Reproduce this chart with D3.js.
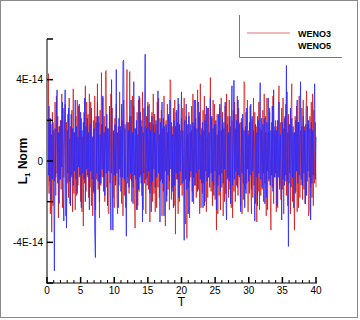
<!DOCTYPE html>
<html><head><meta charset="utf-8">
<script src="https://cdn.jsdelivr.net/npm/d3@7"></script>
<style>
body{margin:0;background:#fff}
svg{display:block}
text{font-family:"Liberation Sans",Arial,sans-serif;fill:#000}
</style>
</head><body>
<svg id="c" width="360" height="320"></svg>
<script>
// ---- data (values in units of 1E-14, sampled every 0.1 in T) ----
const tStep = 0.1;
const seriesNames = ["WENO3", "WENO5"];
const weno3 = [
 0.9,-1.2,4.3,-1.6,2.1,-2.6,1.8,-3.5,2.4,-2.2, 1.5,-1.0,2.9,-1.7,3.2,-0.6,2.2,-2.8,1.7,-0.9,
 2.0,-1.4,3.3,-2.3,2.6,-0.8,1.6,2.8,-2.7,1.9, -1.1,2.3,-1.8,3.1,-2.1,1.7,-0.7,2.5,-2.5,3.55,
-1.6,1.4,-2.4,2.2,-1.7,3.0,-1.2,2.7,-0.8,1.5, -2.0,2.1,-2.5,1.2,-3.2,2.4,-1.1,3.7,-1.5,2.9,
-0.7,2.3,-1.8,3.3,-1.3,2.9,-2.2,1.1,-2.7,2.0, -1.6,3.2,-2.4,2.2,-0.9,3.8,-1.4,1.9,-2.8,2.5,
-1.2,4.35,-0.8,3.1,-1.5,2.2,-2.0,4.4,4.45,-1.3, 1.6,-2.5,-2.6,2.4,-1.1,3.3,-0.6,2.6,-1.8,1.4,
-2.3,2.1,-1.0,2.8,-1.9,-2.6,1.7,-1.2,3.4,-0.8, 1.5,-2.1,2.0,-2.7,3.0,-1.7,1.8,-2.3,2.5,4.5,
-1.1,1.9,-1.6,4.4,-0.9,2.2,-2.0,3.2,-1.3,2.7, -1.8,-3.3,1.6,-2.4,2.4,-2.2,3.0,-1.5,3.1,-0.7,
 2.0,-1.7,3.4,-2.4,2.6,-1.1,1.7,-2.6,2.2,-0.8, 2.9,-1.4,2.8,-3.0,1.9,-1.2,2.4,-2.0,3.3,-1.6,
 2.3,-2.5,1.8,-2.3,2.9,-1.3,3.1,-1.8,2.1,-1.0, 2.5,-2.7,1.6,-1.5,3.2,-0.8,-3.2,2.0,-1.7,2.8,
-1.4,2.2,-2.4,4.0,3.9,-1.9,1.7,-1.3,2.6,-2.2, 3.0,-3.6,2.4,-0.9,1.9,-2.6,2.8,-2.0,1.5,-1.2,
 2.1,-1.7,2.6,-1.0,3.1,-2.4,-3.1,2.2,-3.8,1.8, -1.3,2.4,-2.8,1.4,-0.8,2.7,-1.5,3.3,-2.1,1.7,
-1.2,3.0,-1.8,1.5,3.5,-1.4,2.2,-2.6,3.8,-2.3, 1.6,-1.6,2.5,-1.1,3.2,-2.0,2.3,-2.5,1.2,-1.8,
 2.6,-0.8,1.7,4.1,-1.5,2.1,-2.2,3.0,-1.2,2.8, -1.9,1.8,-3.4,2.3,-2.6,1.5,-1.7,2.6,-2.4,3.1,
-1.3,2.4,-2.7,1.9,-2.0,2.7,-1.6,3.3,-0.9,2.2, -1.8,3.0,-1.4,1.7,-2.3,2.0,-2.8,2.5,-1.5,2.9,
-2.0,2.3,-1.2,3.2,-1.7,2.6,-0.8,1.9,-2.2,2.1, -2.6,1.6,-1.9,3.9,3.8,-1.4,2.4,-1.1,3.0,-2.5,
 1.5,-1.6,2.7,-1.0,-2.6,2.0,-1.8,3.1,-1.2,2.4, -2.1,1.7,-3.0,2.2,-1.5,2.9,-2.4,1.6,-1.7,2.1,
-1.4,2.5,-2.0,3.3,-1.1,2.2,-2.7,3.1,-2.4,1.4, -1.0,2.6,-1.8,-3.4,1.9,-1.3,3.2,-2.1,1.5,-0.8,
 2.0,-2.5,1.7,-2.3,2.4,3.7,-1.2,1.9,-1.9,2.6, -1.4,3.1,-2.6,2.1,-1.0,2.8,-1.7,3.4,-2.2,2.3,
-1.1,1.8,-2.6,2.5,3.8,-2.0,1.4,-1.3,-3.4,2.2, -1.5,2.7,-2.5,1.9,-2.3,3.2,-1.8,1.5,-1.2,2.6,
-1.9,3.0,-1.4,1.7,-2.1,2.4,3.45,-1.0,1.8,-2.7, -2.4,2.2,-1.3,2.9,-1.8,3.3,-2.2,2.5,-1.1,1.9,
-1.3
];
const weno5 = [
 0.6,1.8,-0.7,2.7,-1.0,2.1,-1.9,1.3,-0.9,1.9, -0.6,-5.4,1.6,-0.8,2.2,3.5,-1.1,1.4,-2.1,1.7,
-0.9,2.0,-0.3,2.9,-1.4,-2.95,1.8,3.5,-0.7,-3.3, 1.5,-0.6,2.6,-1.0,1.1,-2.2,2.3,-0.8,1.6,-1.2,
 1.4,-0.5,3.0,-0.9,1.7,-1.6,1.2,-0.3,2.8,-0.7, 2.4,-2.3,1.5,-0.6,1.9,-0.9,3.1,-2.0,1.7,-0.4,
 2.1,-0.8,1.4,-2.4,1.8,-0.5,2.6,-0.9,1.2,-1.5, 1.6,-3.5,-4.75,1.9,-0.6,2.9,-1.0,2.2,-2.0,1.3,
-1.1,1.8,-0.4,3.2,-0.8,1.4,-1.7,1.7,-0.6,2.3, -2.2,1.6,-0.5,2.7,-1.3,-3.4,4.0,-0.9,-3.4,1.5,
-0.7,1.8,-1.2,4.5,-0.6,1.4,-2.3,2.1,-0.4,1.7, -1.5,2.8,-0.8,4.9,4.96,-0.9,1.6,-0.5,-3.7,1.9,
-0.8,1.5,-1.3,2.2,-0.6,3.0,-1.0,1.4,-2.1,3.9, -0.7,1.6,-0.9,2.0,-2.4,1.3,-1.4,3.2,-0.8,2.4,
-1.1,1.7,-3.0,1.4,-0.6,2.0,5.25,-0.9,1.6,-1.2, 2.7,-0.5,1.9,-1.6,1.5,-2.5,2.2,-1.0,1.8,-0.4,
 1.4,-1.3,2.0,-0.8,1.6,3.45,-0.6,1.3,-3.0,1.9, -0.9,2.9,-1.1,2.1,-2.7,1.7,-0.5,1.8,-2.0,1.4,
-0.7,2.3,-1.0,3.0,-0.4,1.9,-1.5,1.3,-2.3,2.0, -1.2,1.7,-0.6,2.5,-0.9,3.1,-1.8,1.8,-0.5,1.6,
 3.4,-1.1,1.5,-0.7,-3.9,2.0,-0.9,2.8,-1.4,1.3, -2.6,2.2,-1.0,1.8,-0.5,1.5,-2.0,1.9,-0.8,3.0,
-1.2,2.1,-0.6,1.6,-1.5,2.9,-0.4,2.4,-0.9,1.3, -1.1,1.9,-2.3,1.5,-2.2,2.0,-0.5,2.7,-1.0,2.6,
-0.8,1.4,-1.3,3.1,-0.6,2.2,-1.0,1.6,-1.7,1.8, -0.5,2.0,-2.4,1.3,-1.2,2.3,-0.7,2.8,-1.5,1.5,
-0.6,2.1,-1.1,1.6,-0.4,2.9,-1.4,-2.9,1.8,-0.8, 1.4,-1.0,2.2,-2.1,1.7,3.7,-1.2,1.5,3.97,-0.9,
 1.6,-0.5,2.0,-1.3,3.0,-0.7,1.8,-1.0,-2.5,1.9, -0.6,2.3,-1.1,1.5,-2.3,1.7,-1.6,2.6,-0.4,1.3,
-1.0,1.9,-0.7,2.8,-1.4,2.2,-0.5,1.5,-1.1,-2.95, 1.8,-0.8,1.4,-2.2,2.0,-0.6,1.7,3.85,-0.9,1.5,
-1.3,1.8,-0.6,2.1,-2.1,1.4,-1.8,1.9,-0.5,3.1, -0.9,2.4,-1.2,1.5,-0.7,2.7,-1.5,3.5,-0.8,1.7,
-0.6,1.5,-2.2,2.0,-0.8,2.9,-1.4,1.3,-0.5,-2.9, 1.9,-0.9,1.6,-1.2,2.2,-0.7,4.7,-1.0,1.4,-4.2,
 1.8,-0.6,2.6,-1.3,2.1,-0.8,1.7,-2.3,1.4,-1.6, 2.0,-0.5,3.0,-1.1,1.9,-0.7,1.3,3.9,-0.9,1.7,
-1.2,2.2,-0.6,1.5,-2.1,1.8,-1.7,2.7,-0.5,2.0, -0.8,1.6,-2.9,1.9,-1.1,1.5,-0.7,2.3,3.8,-0.9,
 1.2
];
const xTicks = [0,5,10,15,20,25,30,35,40];
const xMinorTicks = d3.range(0, 41, 1);
const yTicks = [4, 0, -4];
const yTickLabels = ["4E-14", "0", "-4E-14"];
const yMinorTicks = [6, 2, -2, -6];
const unit = 1e-14;

// ---- layout ----
const svg = d3.select("#c");
const pL = 47, pR = 316, pT = 39, pB = 283;
const x = d3.scaleLinear().domain([0, 40]).range([pL, pR]);
const y = d3.scaleLinear().domain([-6 * unit, 6 * unit]).range([pB, pT]);

// outer frame
svg.append("rect").attr("x", 0.5).attr("y", 0.5).attr("width", 357).attr("height", 317)
  .attr("fill", "none").attr("stroke", "#8a8a8a").attr("stroke-width", 1);

// data
const line = d3.line().x((d, i) => x(i * tStep)).y(d => y(d * unit));
svg.append("path").datum(weno3).attr("d", line)
  .attr("fill", "none").attr("stroke", "#cc0000").attr("stroke-width", 0.9).attr("stroke-opacity", 0.72);
svg.append("path").datum(weno5).attr("d", line)
  .attr("fill", "none").attr("stroke", "#2a2aff").attr("stroke-width", 0.95).attr("stroke-opacity", 0.88);

// axes lines
svg.append("line").attr("x1", pL).attr("x2", pL).attr("y1", pT).attr("y2", pB + 1)
  .attr("stroke", "#808080").attr("stroke-width", 2);
svg.append("line").attr("x1", pL).attr("x2", pR + 1).attr("y1", pB).attr("y2", pB)
  .attr("stroke", "#808080").attr("stroke-width", 2);

// x ticks
const gx = svg.append("g");
gx.selectAll("line.minor").data(xMinorTicks.filter(t => t % 5 !== 0)).join("line").attr("class", "minor")
  .attr("x1", d => x(d)).attr("x2", d => x(d)).attr("y1", pB).attr("y2", pB - 3)
  .attr("stroke", "#000").attr("stroke-width", 1);
gx.selectAll("line.major").data(xTicks).join("line").attr("class", "major")
  .attr("x1", d => x(d)).attr("x2", d => x(d)).attr("y1", pB).attr("y2", pB - 6)
  .attr("stroke", "#000").attr("stroke-width", 1.5);
gx.selectAll("text").data(xTicks).join("text")
  .attr("x", d => x(d)).attr("y", pB + 11).attr("text-anchor", "middle")
  .attr("font-size", 10).text(d => d);

// y ticks
const gy = svg.append("g");
gy.selectAll("line.minor").data(yMinorTicks).join("line").attr("class", "minor")
  .attr("x1", pL).attr("x2", pL + 6).attr("y1", d => y(d * unit)).attr("y2", d => y(d * unit))
  .attr("stroke", "#000").attr("stroke-width", 1.5);
gy.selectAll("line.major").data(yTicks).join("line").attr("class", "major")
  .attr("x1", pL).attr("x2", pL + 6).attr("y1", d => y(d * unit)).attr("y2", d => y(d * unit))
  .attr("stroke", "#000").attr("stroke-width", 1.5);
gy.selectAll("text").data(yTicks).join("text")
  .attr("x", pL - 4).attr("y", d => y(d * unit) + 3.5).attr("text-anchor", "end")
  .attr("font-size", 10).text((d, i) => yTickLabels[i]);

// axis titles
svg.append("text").attr("x", x(20)).attr("y", 306).attr("text-anchor", "middle")
  .attr("font-size", 12).text("T");
const yt = svg.append("text").attr("transform", "translate(27," + y(0) + ") rotate(-90)")
  .attr("text-anchor", "middle").attr("font-size", 12).attr("font-weight", "bold");
yt.append("tspan").text("L");
yt.append("tspan").attr("font-size", 8).attr("dy", 3).text("1");
yt.append("tspan").attr("dy", -3).text(" Norm");

// legend
const lg = svg.append("g");
lg.append("path").attr("d", "M239.5,15 V57.5 H342").attr("fill", "none")
  .attr("stroke", "#777").attr("stroke-width", 1);
lg.append("line").attr("x1", 247).attr("x2", 290).attr("y1", 33).attr("y2", 33)
  .attr("stroke", "#e07070").attr("stroke-width", 1);
lg.selectAll("text").data(seriesNames).join("text")
  .attr("x", 298).attr("y", (d, i) => 36.5 + i * 12).attr("font-size", 9).attr("font-weight", "bold")
  .text(d => d);
</script>
</body></html>
